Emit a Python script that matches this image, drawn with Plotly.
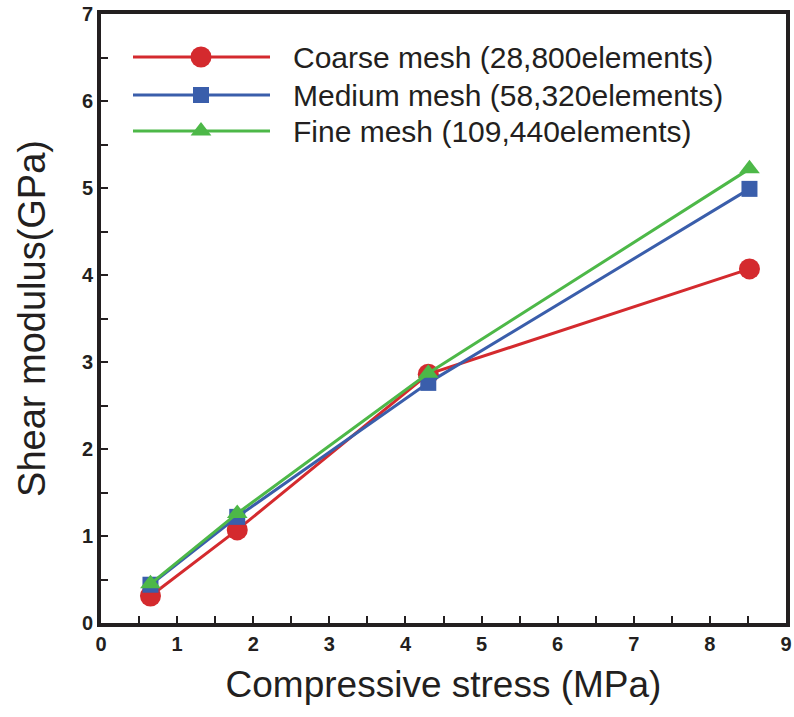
import plotly.graph_objects as go

stress = [0.65, 1.79, 4.30, 8.52]
coarse = [0.31, 1.07, 2.86, 4.07]
medium = [0.44, 1.22, 2.76, 4.99]
fine = [0.45, 1.26, 2.87, 5.22]

names = ["Coarse mesh (28,800elements)", "Medium mesh (58,320elements)", "Fine mesh (109,440elements)"]
colors = ["#d42a2e", "#3a5eab", "#4db848"]
symbols = ["circle", "square", "triangle-up"]
sizes = [21, 16, 18]
series = [coarse, medium, fine]

xticks = [i * 0.5 for i in range(19)]
xtext = ["<b>%d</b>" % int(v) if v == int(v) else "" for v in xticks]
yticks = [i * 0.5 for i in range(15)]
ytext = ["<b>%d</b>" % int(v) if v == int(v) else "" for v in yticks]

fig = go.Figure()
for name, ys, c, s, sz in zip(names, series, colors, symbols, sizes):
    fig.add_trace(go.Scatter(x=stress, y=ys, mode="lines+markers", name=name,
                             line=dict(color=c, width=3),
                             marker=dict(symbol=s, size=sz, color=c, line=dict(width=0)),
                             showlegend=False))

# custom legend drawn on an overlay axis in pixel units
leg_y = [57, 95, 131]
for name, c, s, sz, yy in zip(names, colors, symbols, sizes, leg_y):
    fig.add_trace(go.Scatter(x=[133, 201, 270], y=[yy, yy, yy], xaxis="x2", yaxis="y2",
                             mode="lines", line=dict(color=c, width=3), showlegend=False,
                             hoverinfo="skip"))
    fig.add_trace(go.Scatter(x=[201], y=[yy], xaxis="x2", yaxis="y2", mode="markers",
                             marker=dict(symbol=s, size=sz, color=c, line=dict(width=0)),
                             showlegend=False, hoverinfo="skip"))
    fig.add_annotation(x=291, y=yy, xref="x2", yref="y2", text=name, showarrow=False,
                       xanchor="left", yanchor="middle",
                       font=dict(family="Liberation Sans, Arial", size=30, color="#231f20"))

axis_common = dict(showline=True, linecolor="#231f20", linewidth=4, mirror=True,
                   ticks="inside", ticklen=7, tickwidth=2, tickcolor="#231f20",
                   showgrid=False, zeroline=False, automargin=False,
                   tickfont=dict(family="Liberation Sans, Arial", size=20, color="#231f20"))

fig.update_layout(
    width=794, height=717,
    margin=dict(l=101, r=8, t=14, b=94),
    paper_bgcolor="white", plot_bgcolor="white",
    xaxis=dict(range=[0, 9], tickvals=xticks, ticktext=xtext,
               title=dict(text="Compressive stress (MPa)", standoff=18,
                          font=dict(family="Liberation Sans, Arial", size=37, color="#231f20")),
               **axis_common),
    yaxis=dict(range=[0, 7], tickvals=yticks, ticktext=ytext,
               title=dict(text="Shear modulus(GPa)", standoff=26,
                          font=dict(family="Liberation Sans, Arial", size=38, color="#231f20")),
               **axis_common),
    xaxis2=dict(overlaying="x", range=[101, 786], visible=False),
    yaxis2=dict(overlaying="y", range=[623, 14], visible=False),
)

fig.write_html("out.html")
